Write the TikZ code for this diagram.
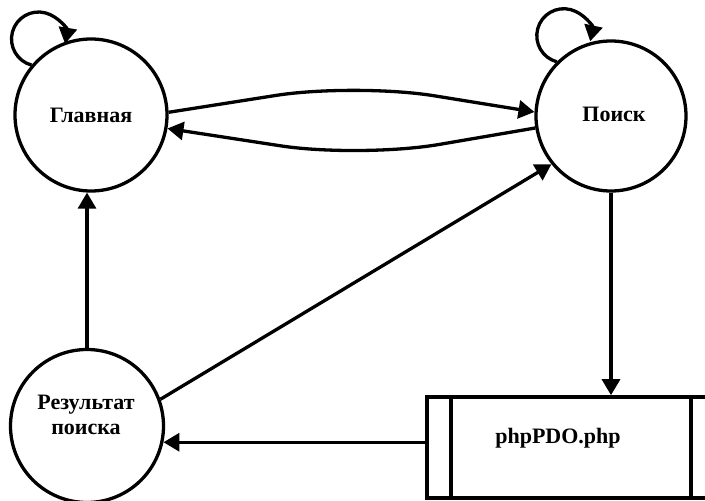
\documentclass[tikz,border=0pt]{standalone}
\usepackage{fontspec}
\setmainfont{Liberation Serif}
\usetikzlibrary{arrows.meta,calc}
\begin{document}
\begin{tikzpicture}[x=1pt,y=1pt,
  state/.style={circle,draw,line width=3.3pt,inner sep=0pt,minimum size=152pt},
  procbox/.style={rectangle,draw,line width=3.6pt,inner sep=0pt,minimum width=288pt,minimum height=101pt},
  lbl/.style={font=\fontsize{22}{25}\selectfont\bfseries,align=center,inner sep=0pt},
  conn/.style={line width=3.3pt,-{Triangle[length=16pt,width=18pt]}}]
\path[use as bounding box,clip] (0,0) rectangle (705,501);
\fill[white] (0,0) rectangle (705,501);
% nodes
\node[state] (g) at (91,386) {};
\node[state,minimum size=150pt] (p) at (611,385) {};
\node[state,minimum size=153pt] (r) at (87,75) {};
\node[procbox] (box) at (571,53.5) {};
\draw[line width=3.6pt] ([xshift=26pt]box.north west) -- ([xshift=26pt]box.south west);
\draw[line width=3.6pt] ([xshift=-26pt]box.north east) -- ([xshift=-26pt]box.south east);
% labels
\node[lbl] (gt) at (91,386) {Главная};
\node[lbl] (pt) at (614,387) {Поиск};
\node[lbl] (rt) at (86,86) {Результат\\поиска};
\node[lbl] (bt) at (558,63) {phpPDO.php};
% helper coordinates
\coordinate (uc) at (355,418);
\coordinate (lc) at (360,343);
% connectors
\draw[conn,rounded corners=80pt] (g.2) -- (uc) -- (p.177);
\draw[conn,rounded corners=80pt] (p.189) -- (lc) -- (g.350);
\draw[conn] (g.140) arc[start angle=255,end angle=-10,radius=27pt];
\draw[conn] (p.135) arc[start angle=255,end angle=-12,radius=27pt];
\draw[conn] (p.south) -- (p.south |- box.north);
\draw[conn] (box.west |- r.-12) -- (r.-12);
\draw[conn] (r.north) -- (r.north |- g.south);
\draw[conn] (r.20) -- (p.219);
\end{tikzpicture}
\end{document}
